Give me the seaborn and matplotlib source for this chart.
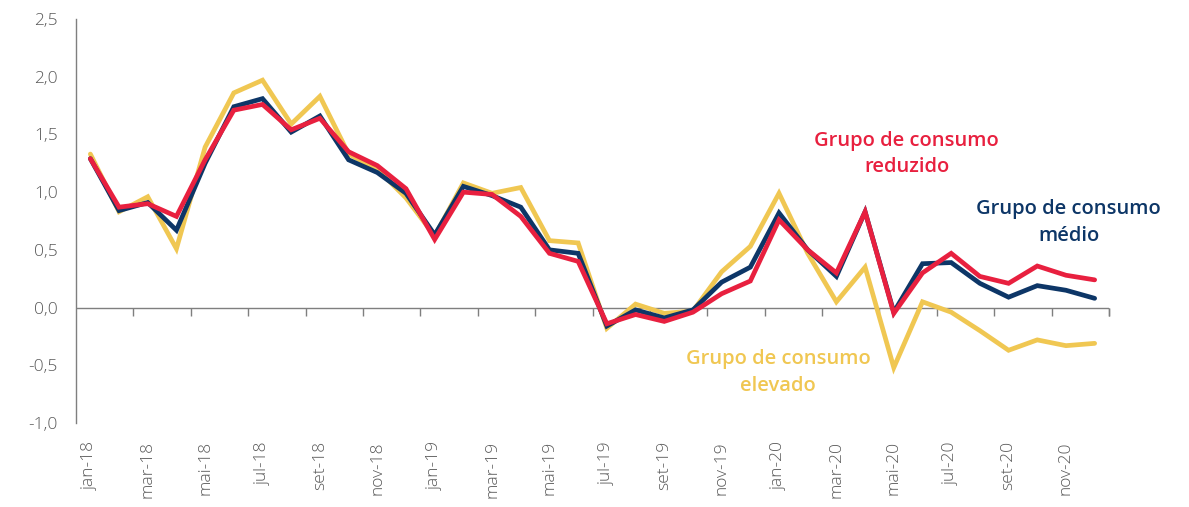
import matplotlib
matplotlib.use("Agg")
import matplotlib.pyplot as plt
import seaborn as sns
import pandas as pd
import numpy as np
from matplotlib.ticker import FuncFormatter

months = ["jan", "fev", "mar", "abr", "mai", "jun", "jul", "ago", "set", "out", "nov", "dez"]
categories = [f"{m}-{y}" for y in ["18", "19", "20"] for m in months]

reduzido = [1.29, 0.87, 0.90, 0.79, 1.28, 1.71, 1.76, 1.54, 1.64, 1.35, 1.23, 1.03,
            0.59, 1.00, 0.98, 0.79, 0.47, 0.40, -0.14, -0.06, -0.12, -0.04, 0.12, 0.23,
            0.76, 0.50, 0.30, 0.83, -0.05, 0.30, 0.47, 0.27, 0.21, 0.36, 0.28, 0.24]
medio = [1.29, 0.84, 0.91, 0.67, 1.25, 1.74, 1.81, 1.52, 1.66, 1.28, 1.17, 0.99,
         0.63, 1.05, 0.97, 0.87, 0.50, 0.47, -0.16, -0.02, -0.09, -0.02, 0.22, 0.35,
         0.82, 0.50, 0.27, 0.83, -0.04, 0.38, 0.39, 0.21, 0.09, 0.19, 0.15, 0.08]
elevado = [1.33, 0.83, 0.96, 0.51, 1.39, 1.86, 1.97, 1.59, 1.83, 1.33, 1.20, 0.95,
           0.62, 1.08, 0.99, 1.04, 0.58, 0.56, -0.18, 0.03, -0.05, -0.03, 0.31, 0.53,
           0.99, 0.47, 0.05, 0.35, -0.52, 0.05, -0.04, -0.20, -0.37, -0.28, -0.33, -0.31]

series_names = ["Grupo de consumo\nelevado", "Grupo de consumo\nmédio", "Grupo de consumo\nreduzido"]
colors = ["#F0C752", "#0D3667", "#E8203F"]

sns.set_theme(style="white")
plt.rcParams['font.family'] = ['Open Sans', 'DejaVu Sans']

fig = plt.figure(figsize=(11.89, 5.07), dpi=100)
ax = fig.add_axes([76/1189, 1 - 423/507, (1109-76)/1189, (423-19)/507])

x = np.arange(len(categories))
df = pd.DataFrame({"x": np.tile(x, 3),
                   "v": elevado + medio + reduzido,
                   "s": np.repeat(series_names, len(categories))})
for name, col in zip(series_names, colors):
    sub = df[df["s"] == name]
    sns.lineplot(data=sub, x="x", y="v", ax=ax, color=col, linewidth=3.4,
                 legend=False, solid_joinstyle="miter")

ax.set_xlim(-0.5, len(categories) - 0.5)
ax.set_ylim(-1.0, 2.5)
ax.set_xlabel("")
ax.set_ylabel("")

grey = "#595959"
axis_col = "#7F7F7F"
for sp in ["top", "right", "bottom"]:
    ax.spines[sp].set_visible(False)
ax.spines["left"].set_color(axis_col)
ax.spines["left"].set_linewidth(1.0)

ax.set_yticks(np.arange(-1.0, 2.51, 0.5))
ax.yaxis.set_major_formatter(FuncFormatter(lambda v, p: f"{v:.1f}".replace(".", ",")))
ax.tick_params(axis="y", direction="out", length=5, width=1, color=axis_col,
               labelsize=12.5, labelcolor=grey, pad=8)

# category labels at bottom
ax.set_xticks(x[::2])
ax.set_xticklabels([categories[i] for i in x[::2]], rotation=90)
ax.tick_params(axis="x", length=0, labelsize=12.5, labelcolor=grey, pad=13)
for lab in ax.get_xticklabels() + ax.get_yticklabels():
    lab.set_fontweight("light")

# horizontal axis line at zero with boundary ticks
ax.axhline(0, color=axis_col, linewidth=1.0, zorder=1)
sec = ax.secondary_xaxis((0 - (-1.0)) / 3.5)
sec.spines["bottom"].set_visible(False)
sec.set_xticks(np.arange(-0.5, len(categories), 2)[1:].tolist() + [len(categories) - 0.5])
sec.tick_params(axis="x", direction="out", length=6, width=1, color=axis_col, labelbottom=False)

font_kw = dict(fontsize=14.5, fontweight="semibold", ha="center", va="center", linespacing=1.45)
ax.text(28.45, 1.33, "Grupo de consumo\nreduzido", color=colors[2], **font_kw)
ax.text(34.1, 0.74, "Grupo de consumo\nmédio", color=colors[1], **font_kw)
ax.text(23.97, -0.56, "Grupo de consumo\nelevado", color=colors[0], **font_kw)

fig.savefig("out.png", dpi=100)
